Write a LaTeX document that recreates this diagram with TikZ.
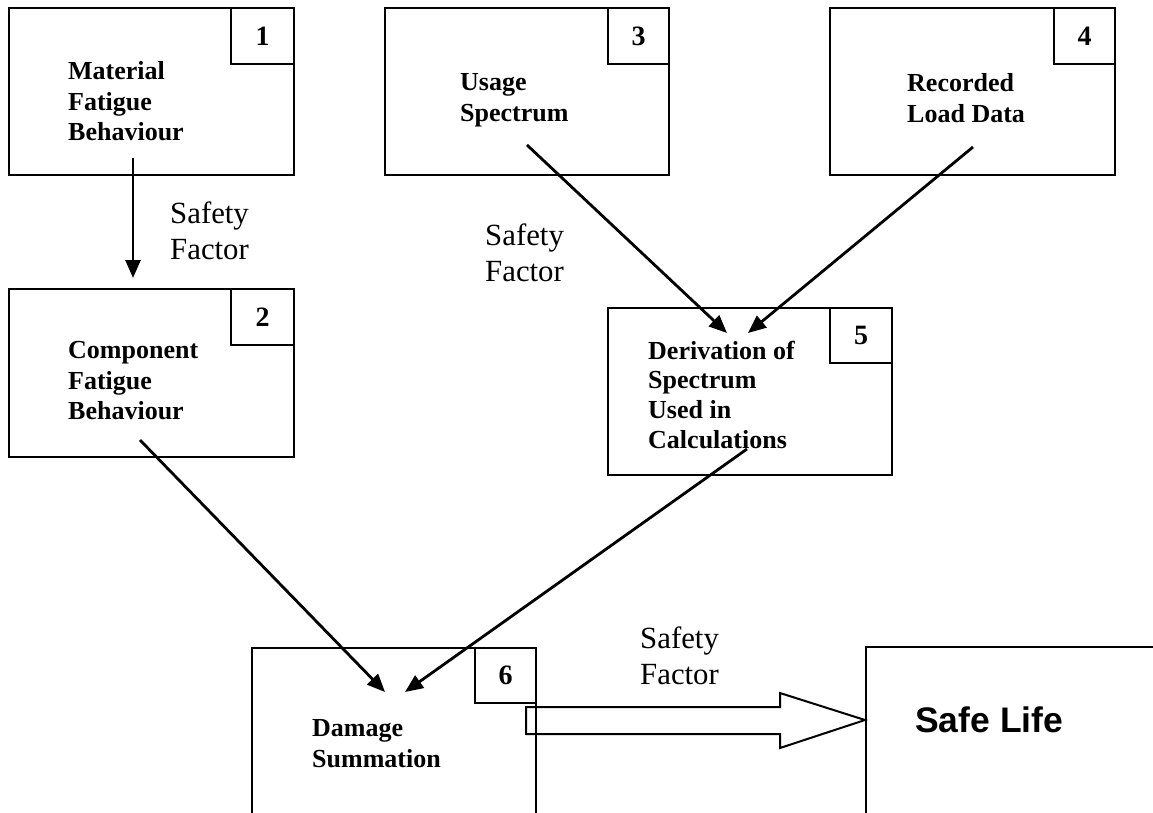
\documentclass[tikz,border=0pt]{standalone}
\usepackage{fontspec}
\setmainfont{Liberation Serif}
\newfontfamily\arialfont{Liberation Sans}
\usetikzlibrary{arrows.meta}
\tikzset{
 box/.style={draw, line width=2.3pt, inner sep=0pt, anchor=north west},
 numbox/.style={draw, line width=2.3pt, inner sep=0pt, anchor=north east, font=\fontsize{28}{30}\selectfont\bfseries},
 boxtext/.style={anchor=north west, inner sep=0pt, align=left, font=\fontsize{26}{30.5}\selectfont\bfseries},
 sftext/.style={anchor=north west, inner sep=0pt, align=left, font=\fontsize{30.8}{35.5}\selectfont},
 flow/.style={line width=2.8pt, -{Triangle[length=18pt,width=15pt]}},
 hollow/.style={draw, line width=2pt, line join=miter},
}
\begin{document}
\begin{tikzpicture}[x=1pt,y=-1pt]
\useasboundingbox (0,0) rectangle (1153,812);
\clip (0,0) rectangle (1153,812);

% main boxes
\node[box, minimum width=285pt, minimum height=167pt] (b1) at (8,7) {};
\node[box, minimum width=284pt, minimum height=167pt] (b3) at (384,7) {};
\node[box, minimum width=285pt, minimum height=167pt] (b4) at (829,7) {};
\node[box, minimum width=285pt, minimum height=168pt] (b2) at (8,288) {};
\node[box, minimum width=284pt, minimum height=167pt] (b5) at (607,307) {};
\node[box, minimum width=284pt, minimum height=220pt] (b6) at (251,647) {};
\node[box, minimum width=340pt, minimum height=220pt] (b7) at (865,646) {};

% number boxes
\node[numbox, minimum width=63pt, minimum height=56pt] (n1) at (b1.north east) {1};
\node[numbox, minimum width=61pt, minimum height=56pt] (n3) at (b3.north east) {3};
\node[numbox, minimum width=61pt, minimum height=56pt] (n4) at (b4.north east) {4};
\node[numbox, minimum width=63pt, minimum height=56pt] (n2) at (b2.north east) {2};
\node[numbox, minimum width=62pt, minimum height=55pt] (n5) at (b5.north east) {5};
\node[numbox, minimum width=61pt, minimum height=55pt] (n6) at (b6.north east) {6};

% box texts
\node[boxtext] (t1) at (68,61.5) {Material\\Fatigue\\Behaviour};
\node[boxtext] (t2) at (68,341.5) {Component\\Fatigue\\Behaviour};
\node[boxtext] (t3) at (460,73.5) {Usage\\Spectrum};
\node[boxtext] (t4) at (907,73.5) {Recorded\\Load Data};
\node[boxtext, font=\fontsize{26}{29.7}\selectfont\bfseries] (t5) at (648,340.5) {Derivation of\\Spectrum\\Used in\\Calculations};
\node[boxtext] (t6) at (312,719.5) {Damage\\Summation};
\node[anchor=base west, inner sep=0pt, font=\arialfont\bfseries\fontsize{35.5}{40}\selectfont] (t7) at (915,732) {Safe Life};

% safety factor labels
\node[sftext] (sf1) at (170,202) {Safety\\Factor};
\node[sftext] (sf2) at (485,224) {Safety\\Factor};
\node[sftext] (sf3) at (640,627) {Safety\\Factor};

% connector end points
\coordinate (a1s) at (133,158);
\coordinate (a1e) at (133,278);
\coordinate (a3s) at (527,145);
\coordinate (a3e) at (727,333);
\coordinate (a4s) at (973,147);
\coordinate (a4e) at (748,333);
\coordinate (a2s) at (140,440);
\coordinate (a2e) at (385,692);
\coordinate (a5s) at (747,449);
\coordinate (a5e) at (405,692);

\draw[flow] (a1s) -- (a1e);
\draw[flow] (a3s) -- (a3e);
\draw[flow] (a4s) -- (a4e);
\draw[flow] (a2s) -- (a2e);
\draw[flow] (a5s) -- (a5e);

% hollow block arrow
\draw[hollow] (526,707) -- (780,707) -- (780,693) -- (b7.west |- 0,720) -- (780,748) -- (780,734) -- (526,734) -- cycle;
\end{tikzpicture}
\end{document}
